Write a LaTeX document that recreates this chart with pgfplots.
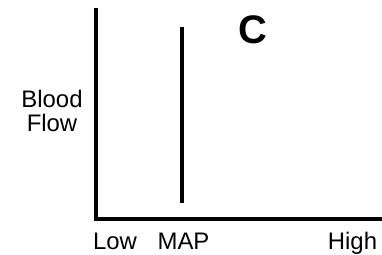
\documentclass[border=0pt]{standalone}
\usepackage{pgfplots}
\pgfplotsset{compat=1.18}
\usepackage{fontspec}
\setmainfont{Liberation Sans}
\begin{document}
\begin{tikzpicture}
\useasboundingbox[fill=white] (0,0) rectangle (382bp,255bp);
\begin{axis}[
  at={(96bp,36bp)}, anchor=south west,
  scale only axis, x=1bp, y=1bp,
  xmin=0, xmax=286, ymin=0, ymax=209,
  axis x line=bottom, axis y line=left,
  axis line style={line width=3bp, -, line cap=rect},
  xtick={19,87.5,256.5}, xticklabels={Low,MAP,High},
  ytick=\empty,
  major tick length=0pt,
  xticklabel style={anchor=base, yshift=-30bp, font=\fontsize{24}{24}\selectfont, inner sep=0pt},
  ylabel={Blood\\Flow},
  every axis y label/.style={at={(axis cs:-44,108)}, anchor=center, align=center, rotate=0, font=\fontsize{24}{24}\selectfont},
  title={C},
  every axis title/.style={at={(axis cs:157,176)}, anchor=base, font=\fontsize{40}{40}\selectfont\bfseries},
  clip=false,
]
\addplot[black, line width=4.5bp, no marks] coordinates {(86,16) (86,192)};
\end{axis}
\end{tikzpicture}
\end{document}
